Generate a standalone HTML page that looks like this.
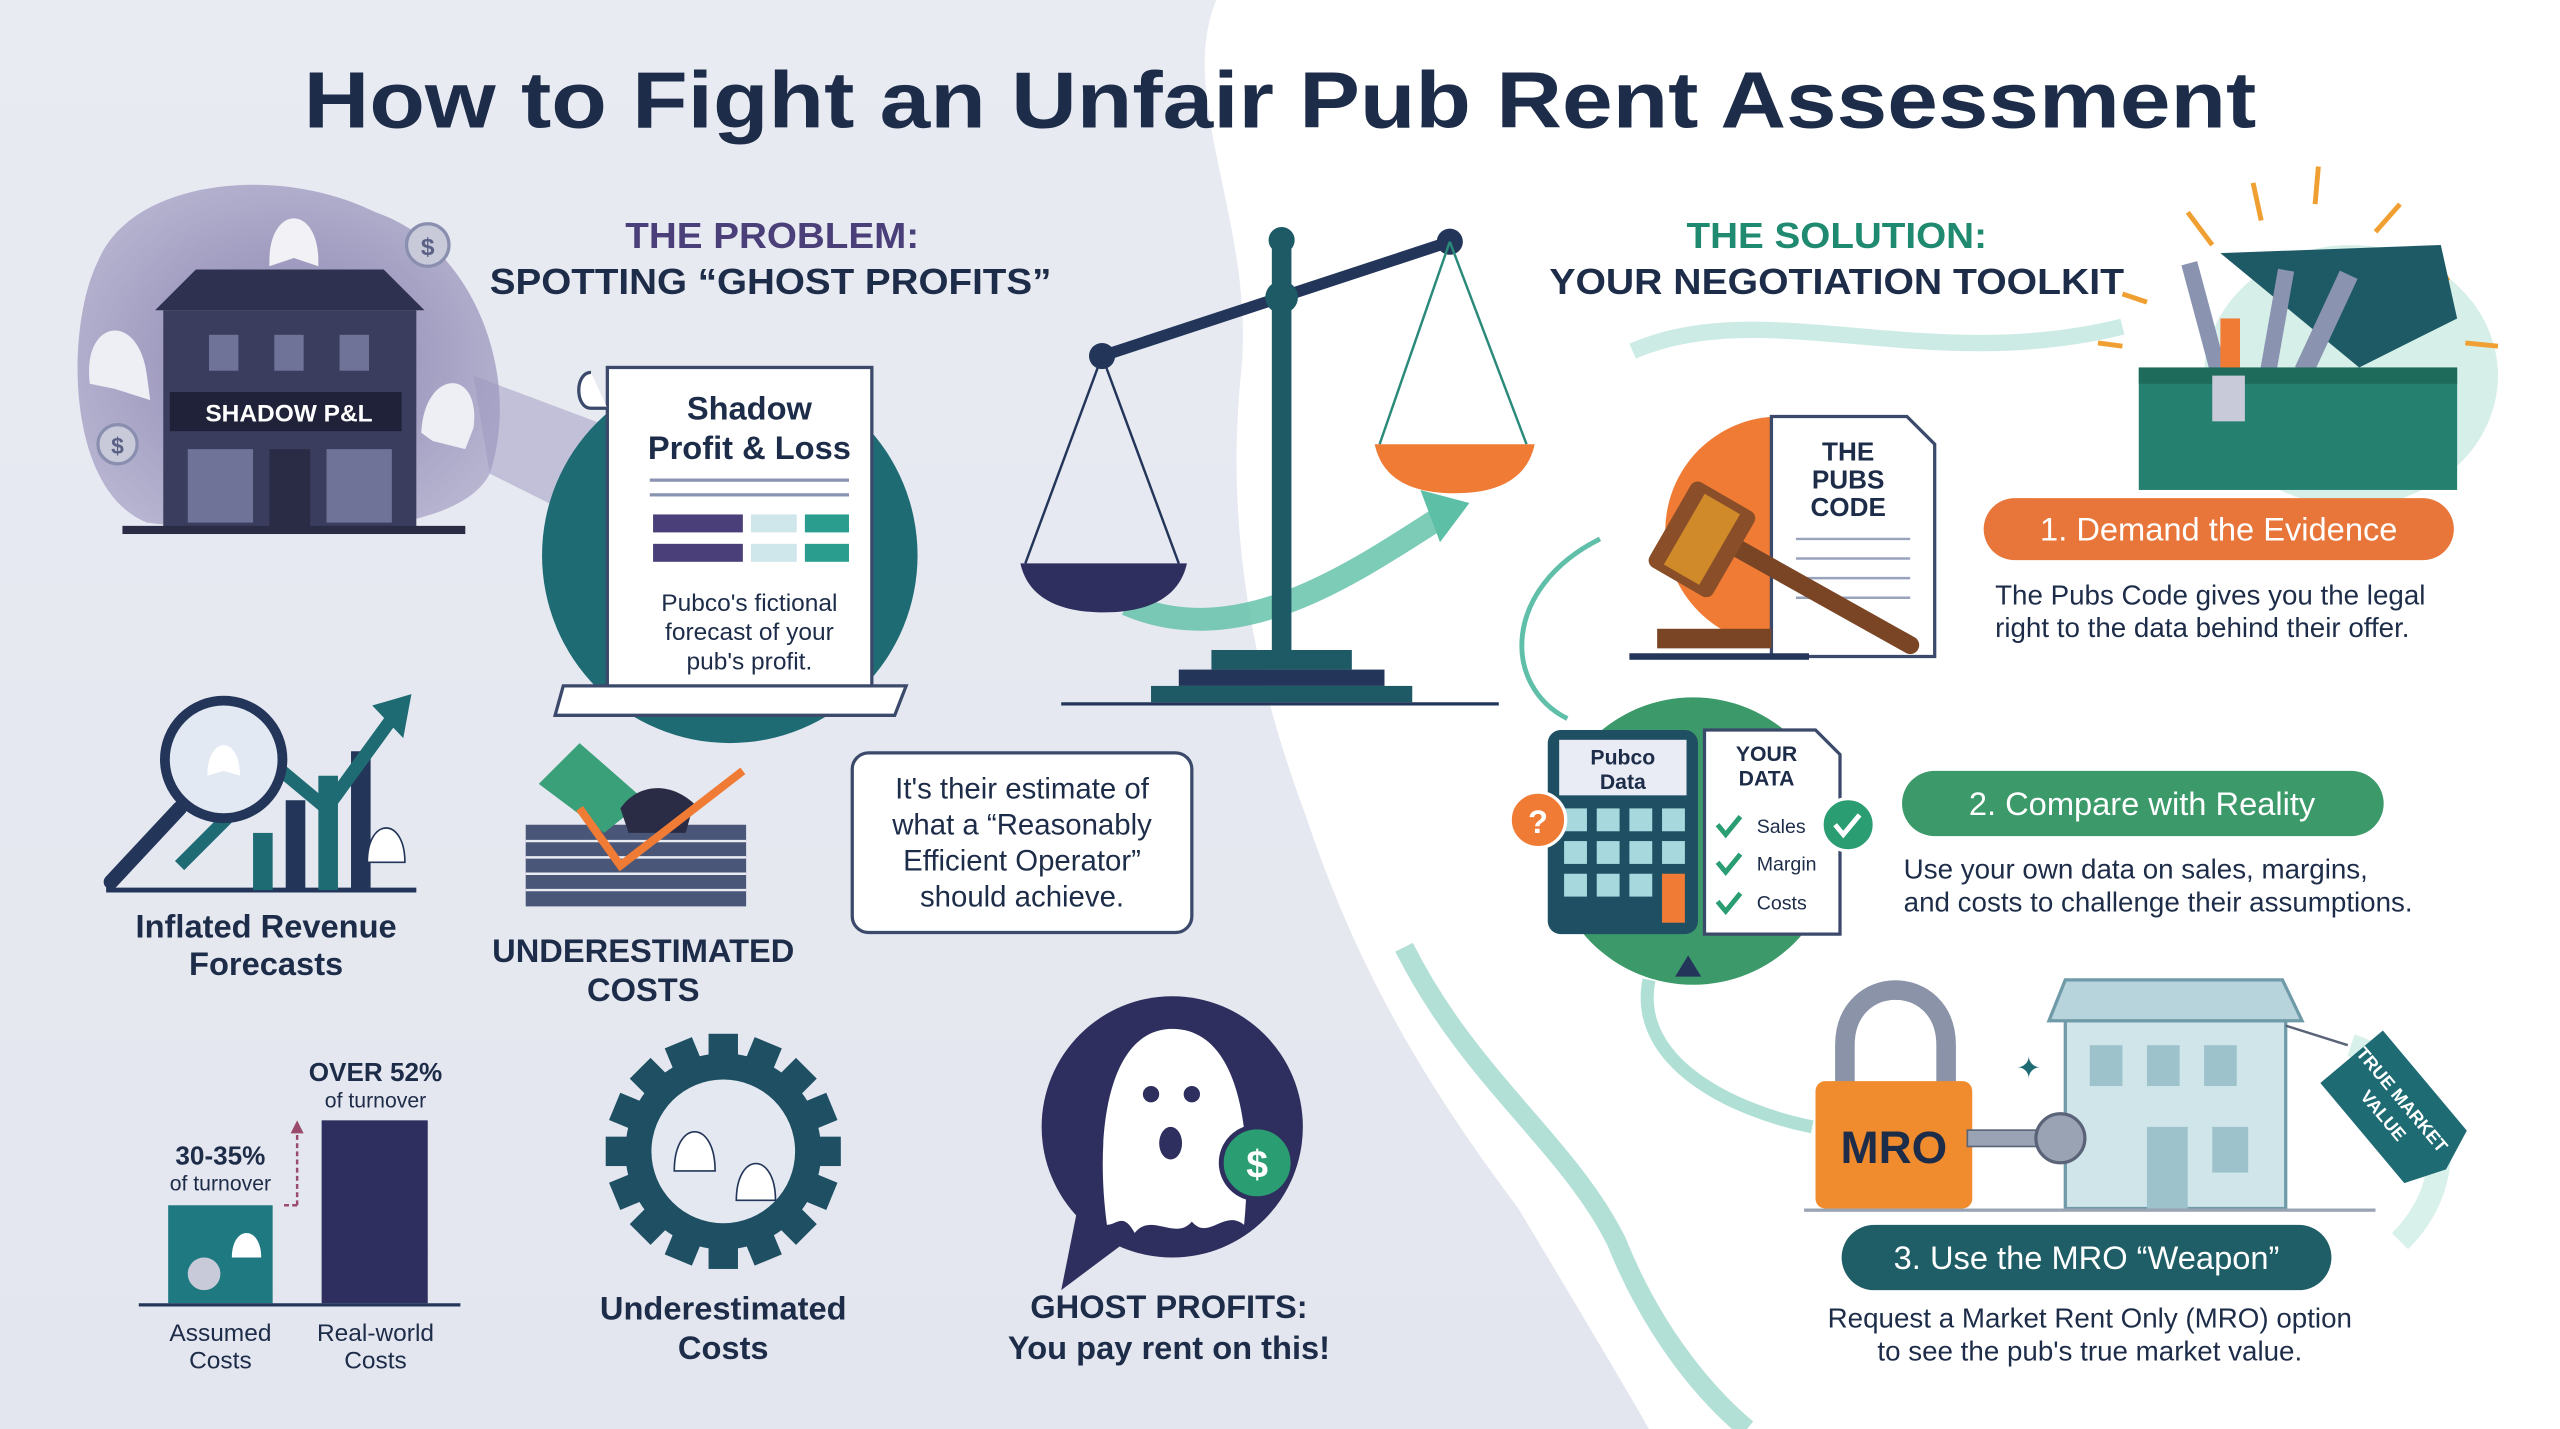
<!DOCTYPE html>
<html><head><meta charset="utf-8"><style>
html,body{margin:0;padding:0;width:2560px;height:1429px;overflow:hidden;background:#fff}
svg{display:block}
text{font-family:"Liberation Sans",sans-serif}
</style></head><body>
<svg width="2560" height="1429" viewBox="0 0 1568 875" preserveAspectRatio="none" xmlns="http://www.w3.org/2000/svg">
<defs>
<linearGradient id="bg" x1="0" y1="0" x2="0" y2="1"><stop offset="0" stop-color="#e9ebf3"/><stop offset="1" stop-color="#e4e6ef"/></linearGradient>
<radialGradient id="blob" cx="0.5" cy="0.5" r="0.6"><stop offset="0" stop-color="#8a84b0"/><stop offset="1" stop-color="#b9b6d2"/></radialGradient>
</defs>
<rect width="1568" height="875" fill="#fff"/>
<path d="M0 0 H745 C720 60 770 140 760 230 C750 330 770 420 800 500 C830 590 870 660 930 740 C960 790 990 840 1010 875 H0 Z" fill="url(#bg)"/>
<path d="M1000 215 C1080 180 1180 230 1300 200" stroke="#b8e3da" stroke-width="10" fill="none" opacity="0.7"/>
<path d="M980 330 C920 360 920 420 960 440" stroke="#5fbfa9" stroke-width="3" fill="none"/>
<path d="M1010 600 C1000 650 1060 680 1110 690" stroke="#8fd3c3" stroke-width="8" fill="none" opacity="0.7"/>
<path d="M860 580 C900 660 960 700 990 760 C1010 810 1040 850 1070 875" stroke="#7fcabb" stroke-width="12" fill="none" opacity="0.6"/>
<path d="M1440 640 C1500 660 1510 720 1470 760" stroke="#c8ebe3" stroke-width="14" fill="none" opacity="0.7"/>

<text x="784" y="78" text-anchor="middle" font-size="49" font-weight="bold" fill="#1d2c48" textLength="1196" lengthAdjust="spacingAndGlyphs">How to Fight an Unfair Pub Rent Assessment</text>

<text x="473" y="152" text-anchor="middle" font-size="22" font-weight="bold" fill="#4a3f78" textLength="180" lengthAdjust="spacingAndGlyphs">THE PROBLEM:</text>
<text x="472" y="180" text-anchor="middle" font-size="22" font-weight="bold" fill="#1d2c48" textLength="344" lengthAdjust="spacingAndGlyphs">SPOTTING “GHOST PROFITS”</text>
<text x="1125" y="152" text-anchor="middle" font-size="22" font-weight="bold" fill="#1f8a70" textLength="184" lengthAdjust="spacingAndGlyphs">THE SOLUTION:</text>
<text x="1125" y="180" text-anchor="middle" font-size="22" font-weight="bold" fill="#1d2c48" textLength="352" lengthAdjust="spacingAndGlyphs">YOUR NEGOTIATION TOOLKIT</text>

<!-- haunted house -->
<path d="M60 160 C80 110 170 100 230 130 C290 150 320 230 300 290 C280 330 170 330 90 320 C40 300 40 200 60 160 Z" fill="url(#blob)"/>
<path d="M290 230 L370 260 L360 320 L300 290 Z" fill="#9c98c0" opacity="0.5"/>
<rect x="100" y="190" width="155" height="135" fill="#3a3d5e"/>
<path d="M95 190 L120 165 H235 L260 190 Z" fill="#2e3150"/>
<rect x="128" y="205" width="18" height="22" fill="#6f7398"/><rect x="168" y="205" width="18" height="22" fill="#6f7398"/><rect x="208" y="205" width="18" height="22" fill="#6f7398"/>
<rect x="104" y="240" width="142" height="24" fill="#1f2238"/>
<text x="177" y="258" text-anchor="middle" font-size="15" font-weight="bold" fill="#fff">SHADOW P&amp;L</text>
<rect x="115" y="275" width="40" height="45" fill="#6f7398"/><rect x="165" y="275" width="25" height="50" fill="#2a2c45"/><rect x="200" y="275" width="40" height="45" fill="#6f7398"/>
<rect x="75" y="322" width="210" height="5" fill="#2a2c45"/>
<path d="M165 160 C165 125 195 125 195 160 L195 163 L180 158 L165 163 Z" fill="#f1f1f6"/>
<path d="M55 235 C50 195 85 190 90 230 L92 245 L70 238 Z" fill="#eeeef5"/>
<path d="M258 265 C260 225 295 225 290 262 L285 275 L265 270 Z" fill="#eeeef5"/>
<circle cx="262" cy="150" r="13" fill="#c8cad9" stroke="#8a8fb0" stroke-width="2"/><text x="262" y="156" text-anchor="middle" font-size="15" fill="#5b6085" font-weight="bold">$</text>
<circle cx="72" cy="272" r="12" fill="#c8cad9" stroke="#8a8fb0" stroke-width="2"/><text x="72" y="278" text-anchor="middle" font-size="14" fill="#5b6085" font-weight="bold">$</text>

<!-- shadow P&L document -->
<circle cx="447" cy="340" r="115" fill="#1e6b74"/>
<rect x="372" y="225" width="162" height="205" fill="#fff" stroke="#3b4a6b" stroke-width="2"/>
<path d="M362 228 C352 228 352 250 362 250 L372 250" fill="#fff" stroke="#3b4a6b" stroke-width="2"/>
<path d="M345 420 H555 L548 438 H340 Z" fill="#fff" stroke="#3b4a6b" stroke-width="2"/>
<text x="459" y="257" text-anchor="middle" font-size="20" font-weight="bold" fill="#1d2c48">Shadow</text>
<text x="459" y="281" text-anchor="middle" font-size="20" font-weight="bold" fill="#1d2c48">Profit &amp; Loss</text>
<rect x="398" y="293" width="122" height="2" fill="#8a93b0"/><rect x="398" y="302" width="122" height="2" fill="#8a93b0"/>
<rect x="400" y="315" width="55" height="11" fill="#4a3f78"/><rect x="460" y="315" width="28" height="11" fill="#cfe6ea"/><rect x="493" y="315" width="27" height="11" fill="#2a9d8f"/>
<rect x="400" y="333" width="55" height="11" fill="#4a3f78"/><rect x="460" y="333" width="28" height="11" fill="#cfe6ea"/><rect x="493" y="333" width="27" height="11" fill="#2a9d8f"/>
<text x="459" y="374" text-anchor="middle" font-size="15" fill="#1d2c48">Pubco's fictional</text>
<text x="459" y="392" text-anchor="middle" font-size="15" fill="#1d2c48">forecast of your</text>
<text x="459" y="410" text-anchor="middle" font-size="15" fill="#1d2c48">pub's profit.</text>

<!-- scale -->
<path d="M690 370 C760 400 830 350 885 315" stroke="#5dbfa6" stroke-width="14" fill="none" opacity="0.8"/>
<path d="M870 300 L900 308 L882 332 Z" fill="#5dbfa6"/>
<rect x="779" y="148" width="12" height="255" fill="#1e5a66"/>
<circle cx="785" cy="147" r="8" fill="#1e5a66"/>
<line x1="675" y1="218" x2="888" y2="148" stroke="#23365a" stroke-width="7"/>
<circle cx="785" cy="182" r="10" fill="#1e5a66"/>
<circle cx="675" cy="218" r="8" fill="#23365a"/><circle cx="888" cy="148" r="8" fill="#23365a"/>
<line x1="675" y1="218" x2="628" y2="345" stroke="#23365a" stroke-width="1.5"/><line x1="675" y1="218" x2="722" y2="345" stroke="#23365a" stroke-width="1.5"/>
<path d="M625 345 H727 C722 368 700 375 676 375 C652 375 630 368 625 345 Z" fill="#2e2f5e"/>
<line x1="888" y1="148" x2="845" y2="272" stroke="#2a8a7a" stroke-width="1.5"/><line x1="888" y1="148" x2="935" y2="272" stroke="#2a8a7a" stroke-width="1.5"/>
<path d="M842 272 H940 C935 295 915 302 891 302 C867 302 847 295 842 272 Z" fill="#ef7b35"/>
<rect x="742" y="398" width="86" height="12" fill="#1e5a66"/>
<rect x="722" y="410" width="126" height="10" fill="#23365a"/>
<rect x="705" y="420" width="160" height="10" fill="#1e5a66"/>
<rect x="650" y="430" width="268" height="2" fill="#23365a"/>

<!-- inflated revenue -->
<path d="M65 545 H255" stroke="#23365a" stroke-width="3"/>
<rect x="155" y="510" width="12" height="35" fill="#1e6b74"/><rect x="175" y="490" width="12" height="55" fill="#23365a"/><rect x="195" y="475" width="12" height="70" fill="#1e6b74"/><rect x="215" y="460" width="12" height="85" fill="#23365a"/>
<path d="M110 530 L170 470 L200 495 L240 440" stroke="#1e6b74" stroke-width="8" fill="none"/>
<path d="M228 432 L252 425 L247 452 Z" fill="#1e6b74"/>
<line x1="110" y1="495" x2="68" y2="540" stroke="#23365a" stroke-width="9" stroke-linecap="round"/>
<circle cx="137" cy="465" r="36" fill="#e3e9f2" stroke="#23365a" stroke-width="6"/>
<path d="M127 475 C127 450 147 450 147 475 L137 472 Z" fill="#fff"/>
<path d="M225 528 C225 500 248 500 248 528 Z" fill="#fff" stroke="#23365a"/>
<text x="163" y="574" text-anchor="middle" font-size="20" font-weight="bold" fill="#1d2c48">Inflated Revenue</text>
<text x="163" y="597" text-anchor="middle" font-size="20" font-weight="bold" fill="#1d2c48">Forecasts</text>

<!-- underestimated costs money -->
<rect x="322" y="505" width="135" height="50" fill="#4a5678"/>
<g stroke="#e9ebf3" stroke-width="1.5"><line x1="322" y1="515" x2="457" y2="515"/><line x1="322" y1="525" x2="457" y2="525"/><line x1="322" y1="535" x2="457" y2="535"/><line x1="322" y1="545" x2="457" y2="545"/></g>
<path d="M330 480 L355 455 L395 490 L370 510 Z" fill="#3aa07a"/>
<path d="M380 495 C390 480 410 478 425 492 L420 510 L385 510 Z" fill="#2a2c45"/>
<path d="M355 495 L380 530 L455 472" stroke="#ef7b35" stroke-width="5" fill="none"/>
<text x="394" y="589" text-anchor="middle" font-size="20" font-weight="bold" fill="#1d2c48">UNDERESTIMATED</text>
<text x="394" y="613" text-anchor="middle" font-size="20" font-weight="bold" fill="#1d2c48">COSTS</text>

<!-- speech box -->
<rect x="522" y="461" width="208" height="110" rx="10" fill="#fff" stroke="#3b4a6b" stroke-width="2"/>
<text x="626" y="489" text-anchor="middle" font-size="18" fill="#1d2c48">It's their estimate of</text>
<text x="626" y="511" text-anchor="middle" font-size="18" fill="#1d2c48">what a “Reasonably</text>
<text x="626" y="533" text-anchor="middle" font-size="18" fill="#1d2c48">Efficient Operator”</text>
<text x="626" y="555" text-anchor="middle" font-size="18" fill="#1d2c48">should achieve.</text>

<!-- bar chart -->
<rect x="103" y="738" width="64" height="60" fill="#1e7a80"/>
<circle cx="125" cy="780" r="10" fill="#c8cad9"/><path d="M142 770 C142 750 160 750 160 770 Z" fill="#fff"/>
<rect x="197" y="686" width="65" height="112" fill="#2e2f5e"/>
<line x1="85" y1="799" x2="282" y2="799" stroke="#23365a" stroke-width="2"/>
<path d="M182 738 H172 M182 738 V692" stroke="#9a4a6a" stroke-width="1.5" stroke-dasharray="3 2" fill="none"/>
<path d="M178 694 L182 686 L186 694 Z" fill="#9a4a6a"/>
<text x="135" y="713" text-anchor="middle" font-size="16" font-weight="bold" fill="#1d2c48">30-35%</text>
<text x="135" y="729" text-anchor="middle" font-size="13" fill="#1d2c48">of turnover</text>
<text x="230" y="662" text-anchor="middle" font-size="16" font-weight="bold" fill="#1d2c48">OVER 52%</text>
<text x="230" y="678" text-anchor="middle" font-size="13" fill="#1d2c48">of turnover</text>
<text x="135" y="821" text-anchor="middle" font-size="15" fill="#1d2c48">Assumed</text>
<text x="135" y="838" text-anchor="middle" font-size="15" fill="#1d2c48">Costs</text>
<text x="230" y="821" text-anchor="middle" font-size="15" fill="#1d2c48">Real-world</text>
<text x="230" y="838" text-anchor="middle" font-size="15" fill="#1d2c48">Costs</text>

<!-- gear -->
<g transform="translate(443,705)">
<g fill="#1e4f63">
<rect x="-9" y="-72" width="18" height="144"/><rect x="-9" y="-72" width="18" height="144" transform="rotate(45)"/><rect x="-9" y="-72" width="18" height="144" transform="rotate(90)"/><rect x="-9" y="-72" width="18" height="144" transform="rotate(135)"/>
<rect x="-9" y="-72" width="18" height="144" transform="rotate(22.5)"/><rect x="-9" y="-72" width="18" height="144" transform="rotate(67.5)"/><rect x="-9" y="-72" width="18" height="144" transform="rotate(112.5)"/><rect x="-9" y="-72" width="18" height="144" transform="rotate(157.5)"/>
</g>
<circle r="60" fill="#1e4f63"/><circle r="44" fill="#e4e8f0"/>
<path d="M-30 12 C-30 -20 -5 -20 -5 12 Z" fill="#fff" stroke="#23365a"/>
<path d="M8 30 C8 0 32 0 32 30 Z" fill="#fff" stroke="#23365a"/>
</g>
<text x="443" y="808" text-anchor="middle" font-size="20" font-weight="bold" fill="#1d2c48">Underestimated</text>
<text x="443" y="832" text-anchor="middle" font-size="20" font-weight="bold" fill="#1d2c48">Costs</text>

<!-- ghost bubble -->
<circle cx="718" cy="690" r="80" fill="#2e2f5e"/>
<path d="M660 740 L650 790 L690 760 Z" fill="#2e2f5e"/>
<path d="M678 750 C670 690 680 630 718 630 C758 630 768 690 762 750 C750 740 740 760 730 748 C720 760 705 742 695 755 C688 742 684 750 678 750 Z" fill="#fff"/>
<circle cx="705" cy="670" r="5" fill="#2e2f5e"/><circle cx="730" cy="670" r="5" fill="#2e2f5e"/><ellipse cx="717" cy="700" rx="7" ry="10" fill="#2e2f5e"/>
<circle cx="770" cy="712" r="22" fill="#2a9d72" stroke="#2e2f5e" stroke-width="3"/>
<text x="770" y="721" text-anchor="middle" font-size="24" font-weight="bold" fill="#fff">$</text>
<text x="716" y="807" text-anchor="middle" font-size="20" font-weight="bold" fill="#1d2c48">GHOST PROFITS:</text>
<text x="716" y="832" text-anchor="middle" font-size="20" font-weight="bold" fill="#1d2c48">You pay rent on this!</text>

<!-- toolbox -->
<ellipse cx="1440" cy="230" rx="90" ry="80" fill="#d7efe9"/>
<g stroke="#f0a033" stroke-width="3"><line x1="1340" y1="130" x2="1355" y2="150"/><line x1="1380" y1="112" x2="1385" y2="135"/><line x1="1420" y1="102" x2="1418" y2="125"/><line x1="1470" y1="125" x2="1455" y2="142"/><line x1="1500" y1="170" x2="1485" y2="178"/><line x1="1510" y1="210" x2="1530" y2="212"/><line x1="1300" y1="180" x2="1315" y2="185"/><line x1="1285" y1="210" x2="1300" y2="212"/></g>
<path d="M1360 155 L1495 150 L1505 195 L1445 225 Z" fill="#1e5a66"/>
<rect x="1345" y="160" width="10" height="70" fill="#8a93b0" transform="rotate(-15 1350 195)"/>
<rect x="1390" y="165" width="10" height="65" fill="#8a93b0" transform="rotate(10 1395 195)"/>
<rect x="1420" y="165" width="12" height="65" fill="#8a93b0" transform="rotate(25 1425 195)"/>
<rect x="1360" y="195" width="12" height="35" fill="#ef7b35"/>
<rect x="1310" y="225" width="195" height="75" fill="#25806f"/>
<rect x="1310" y="225" width="195" height="10" fill="#1e6b5c"/>
<rect x="1355" y="230" width="20" height="28" fill="#c8cad9"/>

<!-- gavel & pubs code -->
<circle cx="1090" cy="325" r="70" fill="#ef7b35"/>
<path d="M1085 255 H1168 L1185 272 V402 H1085 Z" fill="#fff" stroke="#3b4a6b" stroke-width="2"/>
<text x="1132" y="282" text-anchor="middle" font-size="16" font-weight="bold" fill="#1d2c48">THE</text>
<text x="1132" y="299" text-anchor="middle" font-size="16" font-weight="bold" fill="#1d2c48">PUBS</text>
<text x="1132" y="316" text-anchor="middle" font-size="16" font-weight="bold" fill="#1d2c48">CODE</text>
<g stroke="#9aa3be" stroke-width="1.5"><line x1="1100" y1="330" x2="1170" y2="330"/><line x1="1100" y1="342" x2="1170" y2="342"/><line x1="1100" y1="354" x2="1170" y2="354"/><line x1="1100" y1="366" x2="1170" y2="366"/></g>
<line x1="1045" y1="325" x2="1170" y2="395" stroke="#7a4524" stroke-width="11" stroke-linecap="round"/>
<rect x="1020" y="300" width="45" height="60" rx="5" fill="#8a4e28" transform="rotate(30 1042 330)"/>
<rect x="1030" y="305" width="25" height="50" fill="#d08a2a" transform="rotate(30 1042 330)"/>
<rect x="1015" y="385" width="70" height="12" fill="#7a4524"/>
<rect x="998" y="400" width="110" height="4" fill="#23365a"/>

<rect x="1215" y="305" width="288" height="38" rx="19" fill="#e8763a"/>
<text x="1359" y="331" text-anchor="middle" font-size="20" fill="#fff">1. Demand the Evidence</text>
<text x="1222" y="370" font-size="17" fill="#1d2c48">The Pubs Code gives you the legal</text>
<text x="1222" y="390" font-size="17" fill="#1d2c48">right to the data behind their offer.</text>

<!-- calculator / your data -->
<circle cx="1037" cy="515" r="88" fill="#3c9a6a"/>
<rect x="948" y="447" width="92" height="125" rx="8" fill="#1e4f63"/>
<rect x="955" y="453" width="78" height="34" fill="#e9ecf4"/>
<text x="994" y="468" text-anchor="middle" font-size="13" font-weight="bold" fill="#1d2c48">Pubco</text>
<text x="994" y="483" text-anchor="middle" font-size="13" font-weight="bold" fill="#1d2c48">Data</text>
<g fill="#a6d8de">
<rect x="958" y="495" width="14" height="14"/><rect x="978" y="495" width="14" height="14"/><rect x="998" y="495" width="14" height="14"/><rect x="1018" y="495" width="14" height="14"/>
<rect x="958" y="515" width="14" height="14"/><rect x="978" y="515" width="14" height="14"/><rect x="998" y="515" width="14" height="14"/><rect x="1018" y="515" width="14" height="14"/>
<rect x="958" y="535" width="14" height="14"/><rect x="978" y="535" width="14" height="14"/><rect x="998" y="535" width="14" height="14"/>
</g>
<rect x="1018" y="535" width="14" height="30" fill="#ef7b35"/>
<circle cx="942" cy="502" r="17" fill="#ef7b35" stroke="#fff" stroke-width="2"/>
<text x="942" y="510" text-anchor="middle" font-size="20" font-weight="bold" fill="#fff">?</text>
<path d="M1044 447 H1112 L1127 462 V572 H1044 Z" fill="#fff" stroke="#3b4a6b" stroke-width="2"/>
<text x="1082" y="466" text-anchor="middle" font-size="13" font-weight="bold" fill="#1d2c48">YOUR</text>
<text x="1082" y="481" text-anchor="middle" font-size="13" font-weight="bold" fill="#1d2c48">DATA</text>
<g stroke="#2a9d72" stroke-width="3" fill="none"><path d="M1052 505 l5 6 l9 -11"/><path d="M1052 528 l5 6 l9 -11"/><path d="M1052 552 l5 6 l9 -11"/></g>
<text x="1076" y="510" font-size="12" fill="#1d2c48">Sales</text>
<text x="1076" y="533" font-size="12" fill="#1d2c48">Margin</text>
<text x="1076" y="557" font-size="12" fill="#1d2c48">Costs</text>
<circle cx="1132" cy="505" r="16" fill="#2a9d72" stroke="#fff" stroke-width="2"/>
<path d="M1124 505 l5 6 l10 -12" stroke="#fff" stroke-width="3" fill="none"/>
<path d="M1026 598 L1034 585 L1042 598 Z" fill="#23365a"/>

<rect x="1165" y="472" width="295" height="40" rx="20" fill="#3c9a6a"/>
<text x="1312" y="499" text-anchor="middle" font-size="20" fill="#fff">2. Compare with Reality</text>
<text x="1166" y="538" font-size="17" fill="#1d2c48">Use your own data on sales, margins,</text>
<text x="1166" y="558" font-size="17" fill="#1d2c48">and costs to challenge their assumptions.</text>

<!-- MRO -->
<rect x="1265" y="625" width="135" height="115" fill="#cfe5ea" stroke="#6f9aa8" stroke-width="2"/>
<path d="M1255 625 L1265 600 H1398 L1410 625 Z" fill="#b7d4dc" stroke="#6f9aa8" stroke-width="2"/>
<g fill="#9ec2cc"><rect x="1280" y="640" width="20" height="25"/><rect x="1315" y="640" width="20" height="25"/><rect x="1350" y="640" width="20" height="25"/><rect x="1315" y="690" width="25" height="50"/><rect x="1355" y="690" width="22" height="28"/></g>
<path d="M1130 670 V640 C1130 595 1192 595 1192 640 V670" stroke="#8a93a8" stroke-width="12" fill="none"/>
<rect x="1112" y="662" width="96" height="78" rx="6" fill="#f08c2e"/>
<text x="1160" y="712" text-anchor="middle" font-size="28" font-weight="bold" fill="#1d2c48">MRO</text>
<rect x="1205" y="692" width="50" height="10" fill="#9aa3b4" stroke="#5a6378"/>
<circle cx="1262" cy="697" r="15" fill="#9aa3b4" stroke="#5a6378" stroke-width="2"/>
<g transform="rotate(50 1468 680)">
<path d="M1425 655 H1505 L1515 680 L1505 705 H1425 Z" fill="#1e6b74"/>
<text x="1465" y="677" text-anchor="middle" font-size="11" font-weight="bold" fill="#fff">TRUE MARKET</text>
<text x="1465" y="692" text-anchor="middle" font-size="11" font-weight="bold" fill="#fff">VALUE</text>
</g>
<line x1="1400" y1="628" x2="1438" y2="640" stroke="#5a6378" stroke-width="1.5"/>
<text x="1235" y="660" font-size="18" fill="#1e6b74">✦</text>
<rect x="1105" y="740" width="350" height="2" fill="#9aa3b4"/>
<rect x="1128" y="750" width="300" height="40" rx="20" fill="#1f5e66"/>
<text x="1278" y="777" text-anchor="middle" font-size="20" fill="#fff">3. Use the MRO “Weapon”</text>
<text x="1280" y="813" text-anchor="middle" font-size="17" fill="#1d2c48">Request a Market Rent Only (MRO) option</text>
<text x="1280" y="833" text-anchor="middle" font-size="17" fill="#1d2c48">to see the pub's true market value.</text>
</svg>
</body></html>
